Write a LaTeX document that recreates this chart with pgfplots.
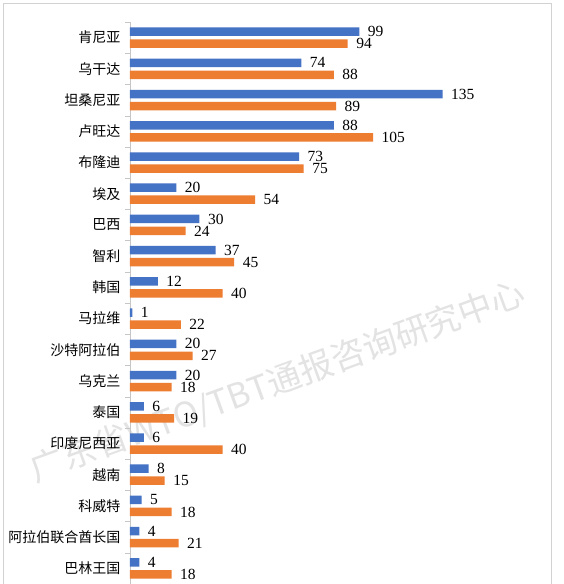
\documentclass[border=0pt]{standalone}
\usepackage{fontspec}
\setmainfont{Liberation Serif}
\newfontfamily\cjk{Noto Sans CJK SC}
\usepackage{pgfplots}
\pgfplotsset{compat=1.18}
\definecolor{cblue}{HTML}{4472C4}
\definecolor{corange}{HTML}{ED7D31}
\begin{document}
\begin{tikzpicture}
\useasboundingbox (0,0) rectangle (563pt,584pt);
\fill[white] (0,0) rectangle (563pt,584pt);
\node[rotate=20, text=gray!22, font=\cjk\fontsize{34}{34}\selectfont] at (278pt,202pt) {广东省WTO/TBT通报咨询研究中心};
\draw[gray!35] (3pt,-5pt) -- (3pt,581pt) -- (551pt,581pt) -- (551pt,-5pt);
\begin{axis}[
  at={(130pt,0pt)}, anchor=south west,
  scale only axis, width=370.6pt, height=562pt,
  xmin=0, xmax=160, ymin=-0.5, ymax=17.5, y dir=reverse,
  xbar, bar width=8.5pt,
  hide x axis, axis y line*=left,
  y axis line style={draw=gray!45},
  ytick={0,...,17},
  yticklabels={肯尼亚,乌干达,坦桑尼亚,卢旺达,布隆迪,埃及,巴西,智利,韩国,马拉维,沙特阿拉伯,乌克兰,泰国,印度尼西亚,越南,科威特,阿拉伯联合酋长国,巴林王国},
  major tick length=0pt,
  minor ytick={-0.5,0.5,...,17.5},
  minor tick length=5pt, tick align=outside,
  minor tick style={gray!45},
  yticklabel style={font=\cjk\fontsize{14}{14}\selectfont, xshift=-6pt},
  /pgf/number format/assume math mode=true,
  point meta=x,
  nodes near coords,
  nodes near coords style={font=\fontsize{15.5}{15.5}\selectfont, anchor=west, xshift=5pt, text=black},
  clip=false,
]
\addplot[fill=cblue, draw=none, bar shift=6pt] coordinates {
(99,0) (74,1) (135,2) (88,3) (73,4) (20,5) (30,6) (37,7) (12,8) (1,9)
(20,10) (20,11) (6,12) (6,13) (8,14) (5,15) (4,16) (4,17)};
\addplot[fill=corange, draw=none, bar shift=-6pt] coordinates {
(94,0) (88,1) (89,2) (105,3) (75,4) (54,5) (24,6) (45,7) (40,8) (22,9)
(27,10) (18,11) (19,12) (40,13) (15,14) (18,15) (21,16) (18,17)};
\end{axis}
\end{tikzpicture}
\end{document}
